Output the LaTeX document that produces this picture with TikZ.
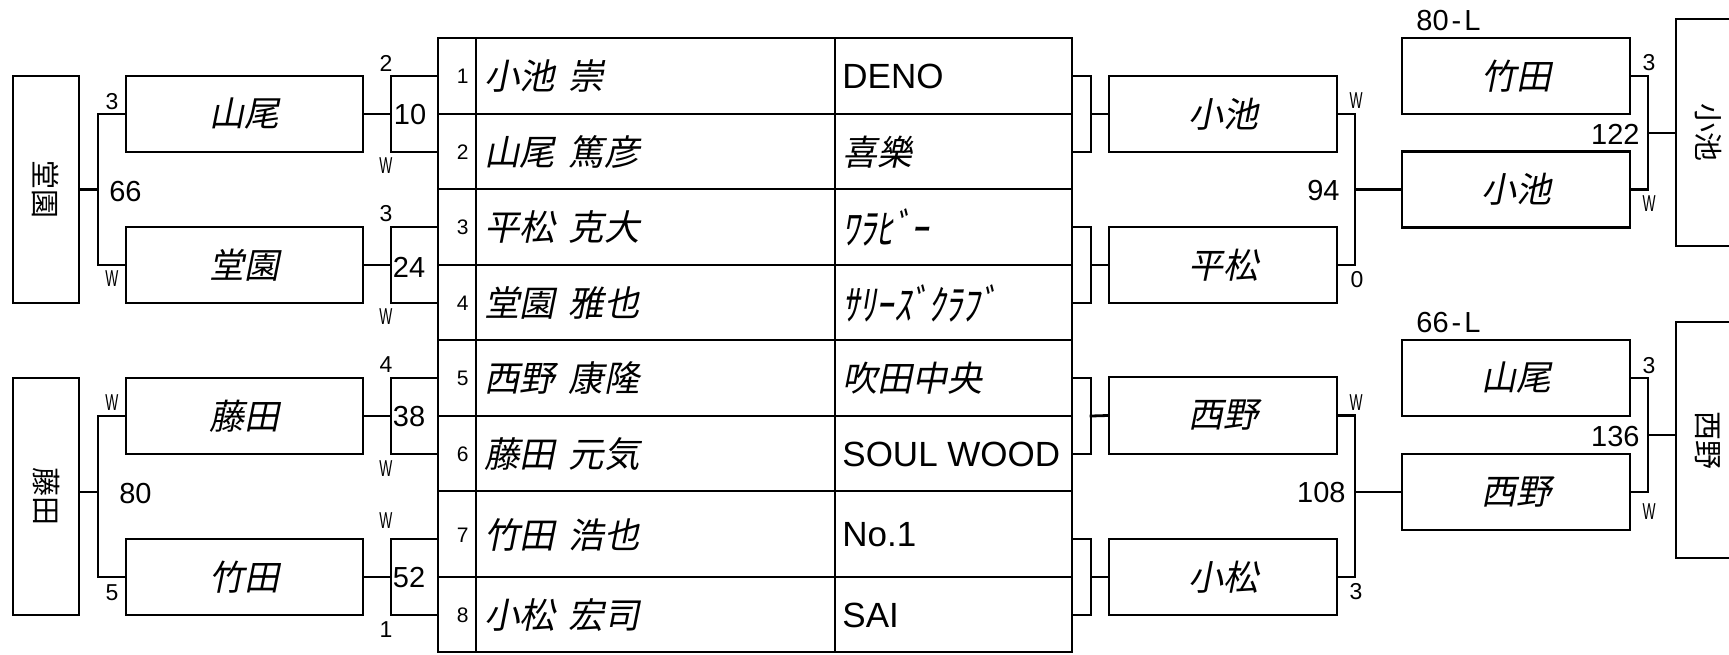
\documentclass[tikz,border=0pt]{standalone}
\usepackage{graphicx}
\usepackage{fontspec}
\setmainfont{Liberation Sans}
\newfontfamily\jp{Noto Sans CJK JP}
\newfontfamily\jpi[FakeSlant=0.2,WordSpace=1.7]{Noto Sans CJK JP}
\newcommand{\nW}{\scalebox{0.6}[1]{W}}
\newcommand{\hk}[1]{\scalebox{0.82}[1]{\jpi\fontsize{42}{42}\selectfont #1}}
\newcommand{\fs}[1]{\fontsize{#1}{#1}\selectfont}
\begin{document}
\begin{tikzpicture}[x=1pt,y=-1pt,line width=2.8pt,line cap=rect,line join=miter,
  plain/.style={draw,rectangle,inner sep=0pt,minimum width=#1},
  abox/.style={plain=237,minimum height=76,font=\jpi\fs{35}},
  bbox/.style={plain=228,minimum height=76,font=\jpi\fs{35}},
  vbox/.style={plain=66,font=\jp\fs{29}},
  fbox/.style={plain=64,font=\jp\fs{29}},
  num/.style={inner sep=0pt,anchor=east,font=\fs{21}},
  nm/.style={inner sep=0pt,anchor=west,font=\jpi\fs{35.5}},
  tmj/.style={inner sep=0pt,anchor=west,font=\jpi\fs{35}},
  tml/.style={inner sep=0pt,anchor=west,font=\fs{35}},
  score/.style={inner sep=0pt,font=\fs{29}},
  lab/.style={inner sep=0pt,font=\fs{23}}]
\useasboundingbox (0,0) rectangle (1729,654);
\clip (0,0) rectangle (1729,654);

% ---------- table ----------
\node[draw,rectangle,inner sep=0pt,minimum width=634,minimum height=614] (tbl) at (755,345) {};
\draw (476,38) -- (476,652);
\draw (835,38) -- (835,652);
\foreach \y in {114,189,265,340,416,491,577} \draw (438,\y) -- (1072,\y);

\foreach \i/\y in {1/76,2/152,3/227,4/303,5/378,6/454,7/539,8/615}{
  \coordinate (tL\i) at (438,\y);
  \coordinate (tR\i) at (1072,\y);
}

\node[num] (n1) at (470,76) {1};
\node[num] (n2) at (470,152) {2};
\node[num] (n3) at (470,227) {3};
\node[num] (n4) at (470,303) {4};
\node[num] (n5) at (470,378) {5};
\node[num] (n6) at (470,454) {6};
\node[num] (n7) at (470,535) {7};
\node[num] (n8) at (470,615) {8};

\node[nm] (p1) at (483,76) {小池 崇};
\node[nm] (p2) at (483,152) {山尾 篤彦};
\node[nm] (p3) at (483,227) {平松 克大};
\node[nm] (p4) at (483,303) {堂園 雅也};
\node[nm] (p5) at (483,378) {西野 康隆};
\node[nm] (p6) at (483,454) {藤田 元気};
\node[nm] (p7) at (483,535) {竹田 浩也};
\node[nm] (p8) at (483,615) {小松 宏司};

\node[tml] (c1) at (841,76) {DENO};
\node[tmj] (c2) at (841,152) {喜樂};
\node[tmj] (c3) at (841,227) {\hk{ﾜﾗﾋﾞｰ}};
\node[tmj] (c4) at (841,303) {\hk{ｻﾘｰｽﾞｸﾗﾌﾞ}};
\node[tmj] (c5) at (841,378) {吹田中央};
\node[tml] (c6) at (841,454) {SOUL WOOD};
\node[tml] (c7) at (841,535) {No.1};
\node[tml] (c8) at (841,615) {SAI};

% ---------- left side ----------
\node[vbox,minimum height=227] (L1) at (46,189.5) {\rotatebox{-90}{堂園}};
\node[vbox,minimum height=237] (L2) at (46,496.5) {\rotatebox{-90}{藤田}};

\node[abox] (A1) at (244.5,114) {山尾};
\node[abox] (A2) at (244.5,265) {堂園};
\node[abox] (A3) at (244.5,416) {藤田};
\node[abox] (A4) at (244.5,577) {竹田};

\coordinate (j1) at (98,189.5);
\coordinate (j2) at (98,492);
\draw (A1.west) -| (j1) |- (A2.west);
\draw (L1.east) -- (j1);
\draw (A3.west) -| (j2) |- (A4.west);
\draw (j2) -- (j2 -| L2.east);

\coordinate (bl1) at (391,114);
\coordinate (bl2) at (391,265);
\coordinate (bl3) at (391,416);
\coordinate (bl4) at (391,577);
\draw (tL1) -| (bl1) |- (tL2);
\draw (tL3) -| (bl2) |- (tL4);
\draw (tL5) -| (bl3) |- (tL6);
\draw (tL7) -| (bl4) |- (tL8);
\draw (A1.east) -- (bl1);
\draw (A2.east) -- (bl2);
\draw (A3.east) -- (bl3);
\draw (A4.east) -- (bl4);

\node[score] (s10) at (410,115) {10};
\node[score] (s24) at (409,267) {24};
\node[score] (s38) at (409,417) {38};
\node[score] (s52) at (409,578) {52};
\node[score] (s66) at (125.5,192) {66};
\node[score] (s80) at (135.5,494) {80};

\node[lab] (la1) at (112,101.5) {3};
\node[lab] (la2) at (112,279) {\nW};
\node[lab] (la3) at (112,403) {\nW};
\node[lab] (la4) at (112,593) {5};
\node[lab] (lb1) at (386,63) {2};
\node[lab] (lb2) at (386,166) {\nW};
\node[lab] (lb3) at (386,214) {3};
\node[lab] (lb4) at (386,317) {\nW};
\node[lab] (lb5) at (386,365) {4};
\node[lab] (lb6) at (386,469) {\nW};
\node[lab] (lb7) at (386,521) {\nW};
\node[lab] (lb8) at (386,630) {1};

% ---------- right side ----------
\node[bbox] (B1) at (1223,114) {小池};
\node[bbox] (B2) at (1223,265) {平松};
\node[bbox,minimum height=77] (B3) at (1223,415.5) {西野};
\node[bbox] (B4) at (1223,577) {小松};

\coordinate (br1) at (1091,114);
\coordinate (br2) at (1091,265);
\coordinate (br3) at (1091,416);
\coordinate (br4) at (1091,577);
\draw (tR1) -| (br1) |- (tR2);
\draw (tR3) -| (br2) |- (tR4);
\draw (tR5) -| (br3) |- (tR6);
\draw (tR7) -| (br4) |- (tR8);
\draw (br1) -- (B1.west);
\draw (br2) -- (B2.west);
\draw (br3) -- (B3.west);
\draw (br4) -- (B4.west);

\node[bbox] (C1) at (1516,76) {竹田};
\node[bbox] (C2) at (1516,189.5) {小池};
\node[bbox] (C3) at (1516,378) {山尾};
\node[bbox] (C4) at (1516,492) {西野};

\coordinate (j3) at (1355,189.5);
\coordinate (j4) at (1355,492);
\draw (B1.east) -| (j3) |- (B2.east);
\draw (j3) -- (C2.west);
\draw (B3.east) -| (j4) |- (B4.east);
\draw (j4) -- (C4.west);

\node[fbox,minimum height=227] (F1) at (1708,132.5) {\rotatebox{-90}{小池}};
\node[fbox,minimum height=236] (F2) at (1708,440) {\rotatebox{-90}{西野}};

\coordinate (j5) at (1648,133);
\coordinate (j6) at (1648,435);
\draw (C1.east) -| (j5) |- (C2.east);
\draw (j5) -- (j5 -| F1.west);
\draw (C3.east) -| (j6) |- (C4.east);
\draw (j6) -- (j6 -| F2.west);

\node[score,anchor=east] (s94) at (1341,191) {94};
\node[score,anchor=east] (s108) at (1347,493) {108};
\node[score,anchor=east] (s122) at (1641,134) {122};
\node[score,anchor=east] (s136) at (1641,437) {136};
\node[score,anchor=west] (s80L) at (1415,21) {80{\kern3pt}-{\kern3pt}L};
\node[score,anchor=west] (s66L) at (1415,323) {66{\kern3pt}-{\kern3pt}L};

\node[lab] (ra1) at (1356,101) {\nW};
\node[lab] (ra2) at (1357,280) {0};
\node[lab] (ra3) at (1356,403) {\nW};
\node[lab] (ra4) at (1356,592) {3};
\node[lab] (rb1) at (1649,63) {3};
\node[lab] (rb2) at (1649,204) {\nW};
\node[lab] (rb3) at (1649,366) {3};
\node[lab] (rb4) at (1649,512) {\nW};
\end{tikzpicture}
\end{document}
